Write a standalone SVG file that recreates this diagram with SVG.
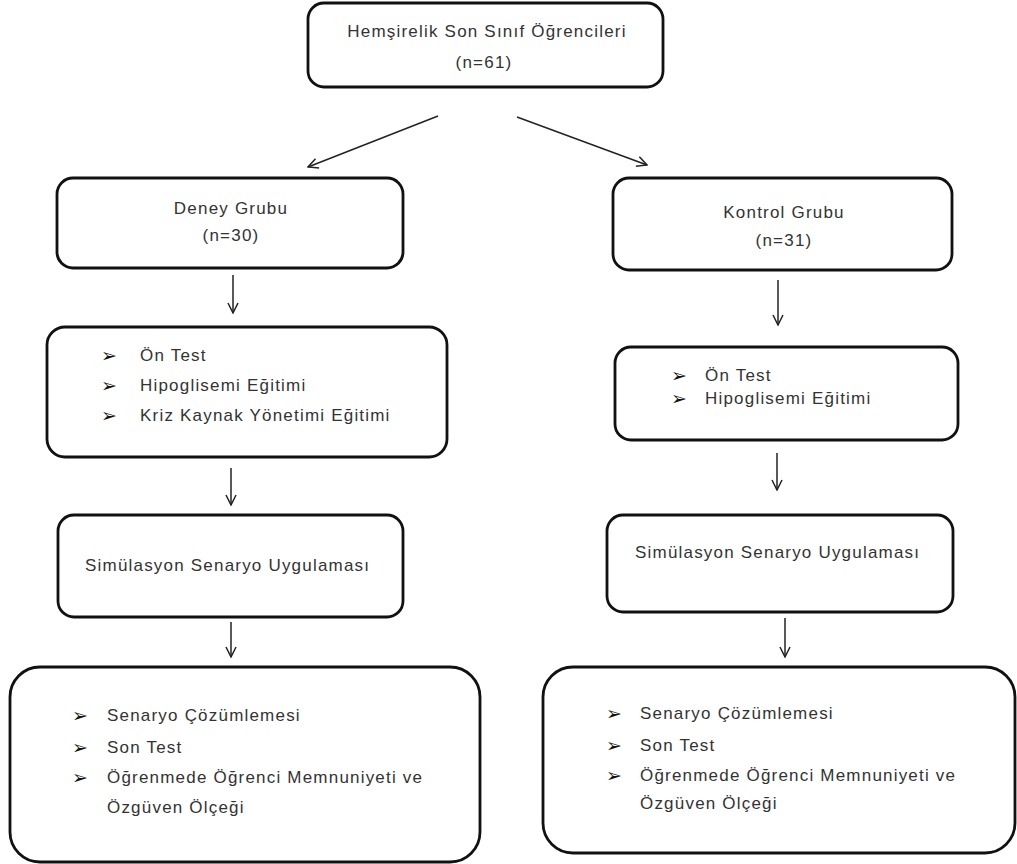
<svg xmlns="http://www.w3.org/2000/svg" width="1017" height="864" viewBox="0 0 1017 864">
<style>
.box{fill:#fff;stroke:#111;stroke-width:2.8}
.t{font-family:"Liberation Sans",Arial,sans-serif;font-size:17px;letter-spacing:1.2px;fill:#333}
.c{text-anchor:middle}
.b{font-family:"DejaVu Sans",sans-serif;font-size:19px;fill:#111}
.ln{stroke:#222;stroke-width:1.5;fill:none}
</style>
<defs>
<marker id="ah" viewBox="0 0 12 12" refX="11" refY="6" markerWidth="12" markerHeight="12" markerUnits="userSpaceOnUse" orient="auto">
<polyline points="1,1 11,6 1,11" fill="none" stroke="#222" stroke-width="1.5"/>
</marker>
</defs>
<rect width="1017" height="864" fill="#fff"/>
<g id="connectors">
<line class="ln" x1="438" y1="116" x2="308" y2="167" marker-end="url(#ah)"/>
<line class="ln" x1="517" y1="117" x2="647" y2="165" marker-end="url(#ah)"/>
<line class="ln" x1="233" y1="275" x2="233" y2="313" marker-end="url(#ah)"/>
<line class="ln" x1="231" y1="468" x2="231" y2="505" marker-end="url(#ah)"/>
<line class="ln" x1="231" y1="622" x2="231" y2="657" marker-end="url(#ah)"/>
<line class="ln" x1="778" y1="280" x2="778" y2="325" marker-end="url(#ah)"/>
<line class="ln" x1="777" y1="453" x2="777" y2="490" marker-end="url(#ah)"/>
<line class="ln" x1="785" y1="618" x2="785" y2="657" marker-end="url(#ah)"/>
</g>
<g id="top">
<rect class="box" x="308" y="3" width="355" height="84" rx="16"/>
<text class="t c" x="487" y="37">Hemşirelik Son Sınıf Öğrencileri</text>
<text class="t c" x="484" y="68">(n=61)</text>
</g>
<g id="deney">
<rect class="box" x="57" y="178" width="346" height="90" rx="16"/>
<text class="t c" x="231" y="214">Deney Grubu</text>
<text class="t c" x="231" y="241">(n=30)</text>
</g>
<g id="kontrol">
<rect class="box" x="613" y="178" width="339" height="92" rx="16"/>
<text class="t c" x="784" y="218">Kontrol Grubu</text>
<text class="t c" x="784" y="246">(n=31)</text>
</g>
<g id="deney-egitim">
<rect class="box" x="47" y="327" width="400" height="130" rx="18"/>
<text class="b" x="101" y="362">➢</text><text class="t" x="140" y="361">Ön Test</text>
<text class="b" x="101" y="392">➢</text><text class="t" x="140" y="391">Hipoglisemi Eğitimi</text>
<text class="b" x="101" y="422">➢</text><text class="t" x="140" y="421">Kriz Kaynak Yönetimi Eğitimi</text>
</g>
<g id="kontrol-egitim">
<rect class="box" x="615" y="347" width="343" height="93" rx="16"/>
<text class="b" x="671" y="382">➢</text><text class="t" x="705" y="381">Ön Test</text>
<text class="b" x="671" y="405">➢</text><text class="t" x="705" y="404">Hipoglisemi Eğitimi</text>
</g>
<g id="deney-sim">
<rect class="box" x="58" y="515" width="345" height="102" rx="16"/>
<text class="t" x="85" y="571">Simülasyon Senaryo Uygulaması</text>
</g>
<g id="kontrol-sim">
<rect class="box" x="607" y="515" width="346" height="97" rx="16"/>
<text class="t" x="635" y="558">Simülasyon Senaryo Uygulaması</text>
</g>
<g id="deney-son">
<rect class="box" x="10" y="667" width="470" height="195" rx="30"/>
<text class="b" x="72" y="722">➢</text><text class="t" x="107" y="721">Senaryo Çözümlemesi</text>
<text class="b" x="72" y="754">➢</text><text class="t" x="107" y="753">Son Test</text>
<text class="b" x="72" y="784">➢</text><text class="t" x="107" y="783">Öğrenmede Öğrenci Memnuniyeti ve</text>
<text class="t" x="107" y="813">Özgüven Ölçeği</text>
</g>
<g id="kontrol-son">
<rect class="box" x="543" y="667" width="472" height="186" rx="30"/>
<text class="b" x="606" y="720">➢</text><text class="t" x="640" y="719">Senaryo Çözümlemesi</text>
<text class="b" x="606" y="752">➢</text><text class="t" x="640" y="751">Son Test</text>
<text class="b" x="606" y="782">➢</text><text class="t" x="640" y="781">Öğrenmede Öğrenci Memnuniyeti ve</text>
<text class="t" x="640" y="809">Özgüven Ölçeği</text>
</g>
</svg>
